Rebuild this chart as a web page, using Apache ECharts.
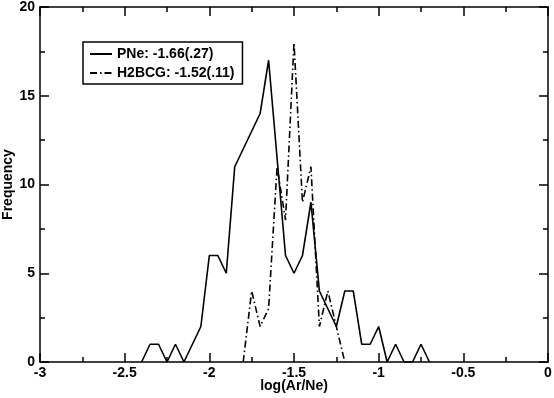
<!DOCTYPE html>
<html>
<head>
<meta charset="utf-8">
<script src="https://cdn.jsdelivr.net/npm/echarts@6/dist/echarts.min.js"></script>
<style>
  html, body { margin: 0; padding: 0; background: #fff; }
  #chart { width: 554px; height: 398px; }
</style>
</head>
<body>
<div id="chart"></div>
<script>
'use strict';

// histogram outlines, bin centres in log(Ar/Ne)
var pneX = [-2.4, -2.35, -2.3, -2.25, -2.2, -2.15, -2.1, -2.05, -2.0, -1.95, -1.9, -1.85, -1.8, -1.75, -1.7, -1.65,
            -1.55, -1.5, -1.45, -1.4, -1.35, -1.3, -1.25, -1.2, -1.15, -1.1, -1.05, -1.0, -0.95, -0.9, -0.85, -0.8, -0.75, -0.7];
var pneY = [0, 1, 1, 0, 1, 0, 1, 2, 6, 6, 5, 11, 12, 13, 14, 17,
            6, 5, 6, 9, 4, 3, 2, 4, 4, 1, 1, 2, 0, 1, 0, 0, 1, 0];

var h2X = [-1.8, -1.75, -1.7, -1.65, -1.6, -1.55, -1.5, -1.45, -1.4, -1.35, -1.3, -1.25, -1.2];
var h2Y = [0, 4, 2, 3, 11, 8, 18, 9, 11, 2, 4, 2, 0];

var pneName = 'PNe: -1.66(.27)';
var h2Name = 'H2BCG: -1.52(.11)';

function pairs(xs, ys) {
    var out = [];
    for (var i = 0; i < xs.length; i++) {
        out.push([xs[i], ys[i]]);
    }
    return out;
}

var font = 'Liberation Sans, Arial, sans-serif';
var axisLine = { show: true, onZero: false, lineStyle: { color: '#000', width: 1.5 } };
var tick = { show: true, inside: true, length: 9, lineStyle: { color: '#000', width: 1.5 } };
var minor = { show: true, splitNumber: 2, length: 5, lineStyle: { color: '#000', width: 1.5 } };
var label = { color: '#000', fontFamily: font, fontWeight: 'bold', fontSize: 14 };
var nameStyle = { color: '#000', fontFamily: font, fontWeight: 'bold', fontSize: 14 };

var option = {
    animation: false,
    backgroundColor: '#fff',
    grid: { left: 40, right: 6, top: 7, bottom: 36, outerBoundsMode: 'none', containLabel: false },
    legend: {
        orient: 'vertical',
        left: 83,
        top: 42,
        padding: [5, 8, 4, 6],
        itemGap: 5,
        itemWidth: 22,
        itemHeight: 10,
        borderColor: '#000',
        borderWidth: 1.5,
        backgroundColor: '#fff',
        itemStyle: { opacity: 0 },
        textStyle: { color: '#000', fontFamily: font, fontWeight: 'bold', fontSize: 14 },
        data: [pneName, h2Name]
    },
    xAxis: [{
        type: 'value',
        min: -3,
        max: 0,
        interval: 0.5,
        name: 'log(Ar/Ne)',
        nameLocation: 'middle',
        nameGap: 17,
        nameMoveOverlap: false,
        nameTextStyle: nameStyle,
        axisLine: axisLine,
        axisTick: tick,
        minorTick: minor,
        splitLine: { show: false },
        axisLabel: Object.assign({ margin: 4 }, label)
    }, {
        type: 'value',
        position: 'top',
        min: -3,
        max: 0,
        interval: 0.5,
        axisLine: axisLine,
        axisTick: tick,
        minorTick: minor,
        splitLine: { show: false },
        axisLabel: { show: false }
    }],
    yAxis: [{
        type: 'value',
        min: 0,
        max: 20,
        interval: 5,
        name: 'Frequency',
        nameLocation: 'middle',
        nameGap: 25,
        nameMoveOverlap: false,
        nameTextStyle: nameStyle,
        axisLine: axisLine,
        axisTick: tick,
        minorTick: minor,
        splitLine: { show: false },
        axisLabel: Object.assign({ margin: 5 }, label)
    }, {
        type: 'value',
        position: 'right',
        min: 0,
        max: 20,
        interval: 5,
        axisLine: axisLine,
        axisTick: tick,
        minorTick: minor,
        splitLine: { show: false },
        axisLabel: { show: false }
    }],
    series: [{
        name: pneName,
        type: 'line',
        symbol: 'none',
        color: '#000',
        lineStyle: { color: '#000', width: 1.6, type: 'solid' },
        data: pairs(pneX, pneY)
    }, {
        name: h2Name,
        type: 'line',
        symbol: 'none',
        color: '#000',
        lineStyle: { color: '#000', width: 1.6, type: [7, 3, 1.5, 3] },
        data: pairs(h2X, h2Y)
    }]
};

var myChart = echarts.init(document.getElementById('chart'), null, { renderer: 'canvas' });
myChart.setOption(option);
</script>
</body>
</html>
